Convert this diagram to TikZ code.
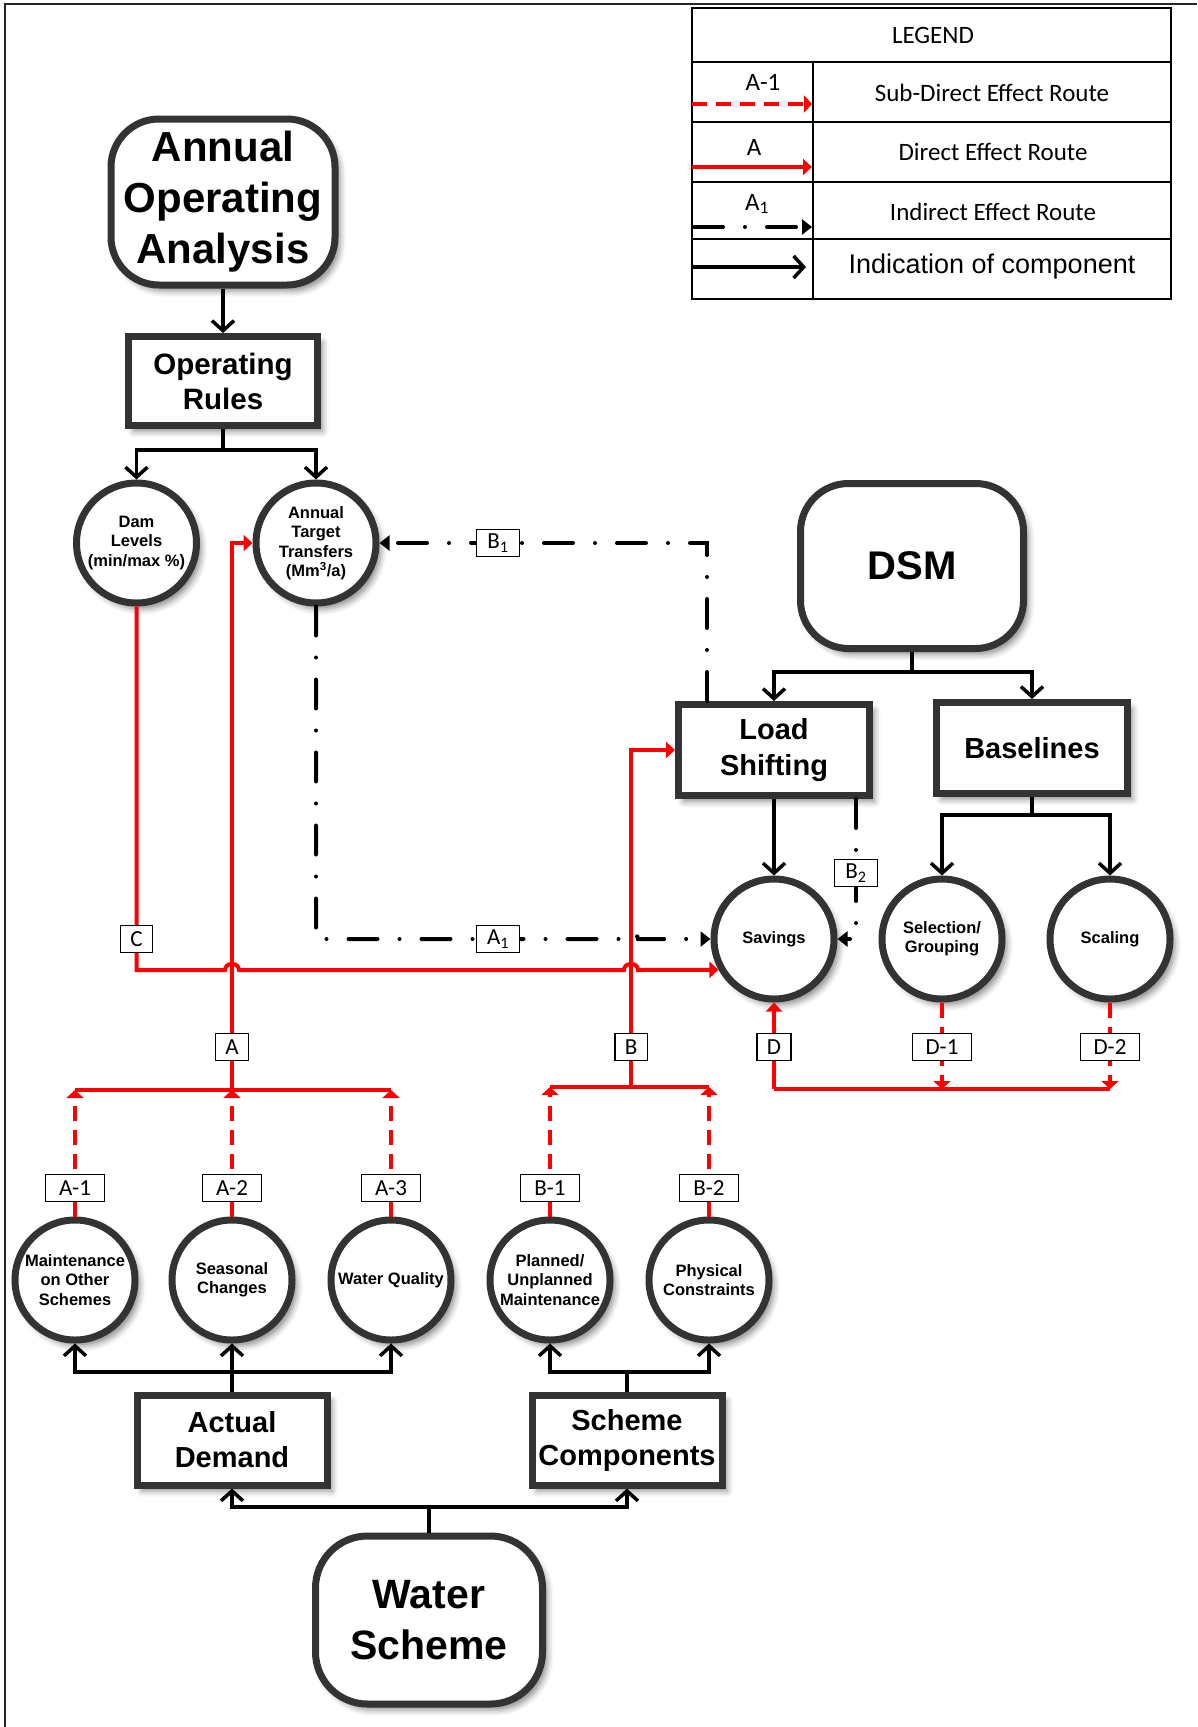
\documentclass[tikz,border=0pt]{standalone}
\usepackage{fontspec}
\setmainfont{Liberation Sans}
\newfontfamily\carl{Carlito}
\usetikzlibrary{arrows.meta,shadows.blur}
\definecolor{edge}{HTML}{333333}
\definecolor{route}{HTML}{FF0000}

\begin{document}
\begin{tikzpicture}[x=1pt,y=-1pt,
  shade/.style={blur shadow={shadow xshift=5pt,shadow yshift=-6pt,shadow blur radius=6pt,shadow opacity=45}},
  block/.style={draw=edge,line width=7pt,fill=white,align=center,inner sep=0pt,shade},
  rblock/.style={block,rounded corners=48pt},
  ring/.style={circle,draw=edge,line width=7pt,fill=white,minimum size=120pt,inner sep=0pt,align=center,shade,
    font=\bfseries\fontsize{16.5}{19.5}\selectfont},
  bigtext/.style={font=\bfseries\fontsize{42}{51}\selectfont},
  midtext/.style={font=\bfseries\fontsize{29}{36}\selectfont},
  link/.style={line width=3.5pt},
  comp/.style={link,-{Straight Barb[length=10pt,width=22pt]}},
  bar/.style={route,line width=4pt},
  direct/.style={bar,-{Triangle[length=9pt,width=16pt]}},
  subdirect/.style={bar,dash pattern=on 15pt off 9pt,-{Triangle[length=8pt,width=17pt]}},
  indirect/.style={line width=4pt,line cap=round,dash pattern=on 29pt off 22pt on 0pt off 22pt,
    -{Triangle[length=10pt,width=15pt]}},
  tag/.style={draw,line width=1.5pt,fill=white,inner xsep=10pt,inner ysep=0pt,minimum height=27pt,
    minimum width=30pt,font=\carl\fontsize{23}{23}\selectfont},
  widetag/.style={tag,minimum width=59pt},
  leg/.style={font=\carl\fontsize{25}{25}\selectfont},
]
\useasboundingbox (0,0) rectangle (1197,1727);

% page frame
\draw[line width=2pt,black!85] (5,1727) -- (5,4) -- (1197,4);

% ---------- legend ----------
\draw[line width=1.3pt] (692,8) rectangle (1171,299);
\draw[line width=1.3pt] (692,62) -- (1171,62) (692,122) -- (1171,122)
  (692,182) -- (1171,182) (692,239) -- (1171,239) (813,62) -- (813,299);
\node[leg] (legtitle) at (933,35) {LEGEND};
\node[leg] (legA1) at (763,82) {A-1};
\node[leg] (legsub) at (992,93) {Sub-Direct Effect Route};
\node[leg] (legA) at (754,147) {A};
\node[leg] (legdir) at (993,152) {Direct Effect Route};
\node[leg] (legAi) at (757,204) {A\textsubscript{1}};
\node[leg] (legind) at (993,212) {Indirect Effect Route};
\node[font=\fontsize{27}{27}\selectfont] (legcomp) at (992,267) {Indication of component};
\coordinate (l1s) at (692,104); \coordinate (l1e) at (812,104);
\coordinate (l2s) at (692,167); \coordinate (l2e) at (812,167);
\coordinate (l3s) at (694,227); \coordinate (l3e) at (812,227);
\coordinate (l4s) at (692,267); \coordinate (l4e) at (806,267);
\draw[subdirect] (l1s) -- (l1e);
\draw[direct] (l2s) -- (l2e);
\draw[indirect] (l3s) -- (l3e);
\draw[comp] (l4s) -- (l4e);

% ---------- blocks ----------
\node[rblock,bigtext,minimum width=224pt,minimum height=166pt] (aoa) at (223,202) {Annual\\Operating\\Analysis};
\node[block,font=\bfseries\fontsize{29.5}{35}\selectfont,minimum width=189pt,minimum height=89pt] (rules) at (223,381) {Operating\\Rules};
\node[ring] (dam) at (136.5,543) {Dam\\Levels\\(min/max \%)};
\node[ring] (att) at (316,543) {Annual\\Target\\Transfers\\(Mm\textsuperscript{3}/a)};

\node[rblock,font=\bfseries\fontsize{40}{48}\selectfont,minimum width=223pt,minimum height=165pt] (dsm) at (912,566) {DSM};
\node[block,midtext,minimum width=191pt,minimum height=91pt] (ls) at (774,750) {Load\\Shifting};
\node[block,midtext,minimum width=191pt,minimum height=91pt] (base) at (1032,748) {Baselines};
\node[ring] (sav) at (774,939) {Savings};
\node[ring] (sel) at (942,939) {Selection/\\Grouping};
\node[ring] (scal) at (1110,939) {Scaling};

\node[ring] (maint) at (75,1280) {Maintenance\\on Other\\Schemes};
\node[ring] (seas) at (232,1280) {Seasonal\\Changes};
\node[ring] (wq) at (391,1280) {Water Quality};
\node[ring] (plan) at (550,1280) {Planned/\\Unplanned\\Maintenance};
\node[ring] (phys) at (709,1280) {Physical\\Constraints};

\node[block,font=\bfseries\fontsize{29}{35}\selectfont,minimum width=190pt,minimum height=90pt] (ad) at (232,1440) {Actual\\Demand};
\node[block,font=\bfseries\fontsize{29}{35}\selectfont,minimum width=190pt,minimum height=90pt] (sc) at (627,1440) {Scheme\\Components};
\node[rblock,font=\bfseries\fontsize{41}{51}\selectfont,rounded corners=52pt,minimum width=227pt,minimum height=168pt] (ws) at (429,1620) {Water\\Scheme};

% ---------- component links ----------
\draw[comp] (aoa) -- (rules);
\coordinate (rj) at (223,450);
\draw[link] (rules.south) -- (rj);
\draw[comp] (rj) -| (dam);
\draw[comp] (rj) -| (att);

\coordinate (dj) at (912,672);
\draw[link] (dsm.south) -- (dj);
\draw[comp] (dj) -| (ls);
\draw[comp] (dj) -| (base);
\draw[comp] (ls) -- (sav);
\coordinate (bj) at (1032,815);
\draw[link] (base.south) -- (bj);
\draw[comp] (bj) -| (sel);
\draw[comp] (bj) -| (scal);

\coordinate (wj) at (429,1507);
\draw[link] (ws.north) -- (wj);
\draw[comp] (wj) -| (ad);
\draw[comp] (wj) -| (sc);
\coordinate (aj) at (232,1372);
\draw[comp] (ad) -- (seas);
\draw[comp] (aj) -| (maint);
\draw[comp] (aj) -| (wq);
\coordinate (sj) at (627,1372);
\draw[link] (sc.north) -- (sj);
\draw[comp] (sj) -| (plan);
\draw[comp] (sj) -| (phys);

% ---------- direct and sub-direct routes ----------
\coordinate (aL) at (75,1090); \coordinate (aM) at (232,1090); \coordinate (aR) at (391,1090);
\draw[bar] (aL) -- (aR);
\draw[subdirect] (maint) -- (aL);
\draw[subdirect] (seas) -- (aM);
\draw[subdirect] (wq) -- (aR);
\draw[direct] (aM) |- (att);

\coordinate (bL) at (550,1087); \coordinate (bM) at (631,1087); \coordinate (bR) at (709,1087);
\draw[bar] (bL) -- (bR);
\draw[subdirect] (plan) -- (bL);
\draw[subdirect] (phys) -- (bR);
\draw[direct] (bM) |- (ls);

\coordinate (cc) at (136.5,970);
\draw[direct] (dam) -- (cc) -- (225,970) .. controls (225,962) and (239,962) .. (239,970)
  -- (624,970) .. controls (624,962) and (638,962) .. (638,970) -- (sav.209);

\coordinate (dL) at (774,1089); \coordinate (dM) at (942,1089); \coordinate (dR) at (1110,1089);
\draw[bar] (dL) -- (dR);
\draw[direct] (dL) -- (sav);
\draw[subdirect] (sel) -- (dM);
\draw[subdirect] (scal) -- (dR);

% ---------- indirect routes ----------
\draw[indirect] ([xshift=-67pt]ls.north) |- (att);
\coordinate (ac) at (316,939);
\draw[indirect] (att) -- (ac) -- (624,939) .. controls (624,932) and (638,932) .. (638,939) -- (sav);
\draw[indirect] ([xshift=82pt]ls.south) |- (sav);

% ---------- route tags ----------
\node[tag] (tC) at (136.5,939) {C};
\node[tag] (tA) at (232,1047) {A};
\node[tag] (tB) at (631,1047) {B};
\node[tag] (tD) at (774,1047) {D};
\node[widetag] (tD1) at (942,1047) {D-1};
\node[widetag] (tD2) at (1110,1047) {D-2};
\node[widetag] (tA1) at (75,1188) {A-1};
\node[widetag] (tA2) at (232,1188) {A-2};
\node[widetag] (tA3) at (391,1188) {A-3};
\node[widetag] (tB1) at (550,1188) {B-1};
\node[widetag] (tB2) at (709,1188) {B-2};
\node[tag,minimum width=43pt] (iB1) at (498,543) {B\textsubscript{1}};
\node[tag,minimum width=43pt] (iA1) at (498,939) {A\textsubscript{1}};
\node[tag,minimum width=43pt] (iB2) at (856,873) {B\textsubscript{2}};
\end{tikzpicture}
\end{document}
